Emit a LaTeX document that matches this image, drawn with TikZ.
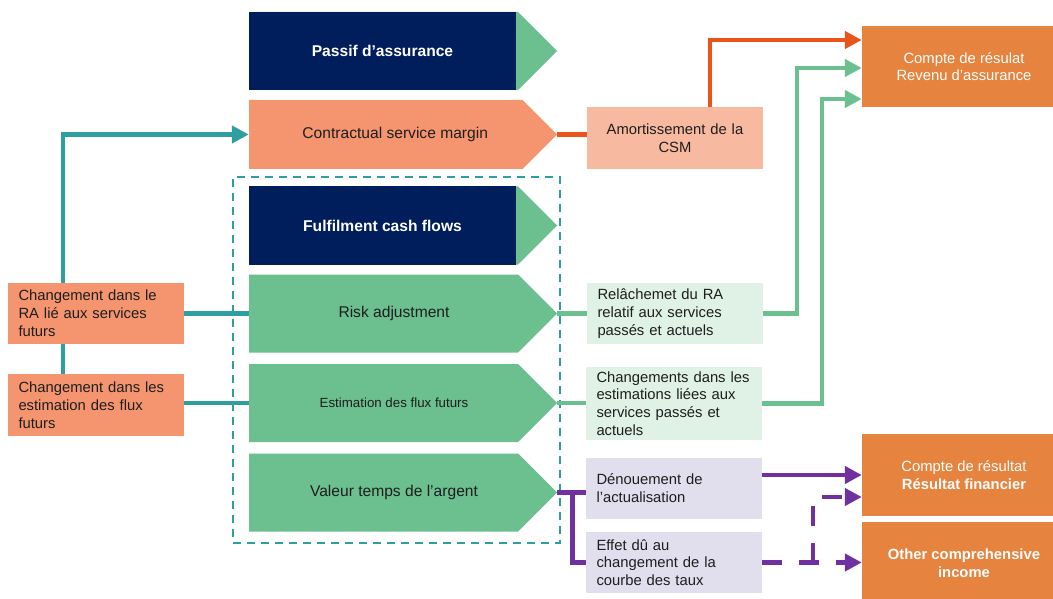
\documentclass[tikz,border=0pt]{standalone}
\usepackage{fontspec}
\setmainfont{Liberation Sans}
\usetikzlibrary{shapes.symbols,arrows.meta,calc}
\pgfdeclarelayer{background}
\pgfsetlayers{background,main}

\definecolor{navy}{RGB}{0,30,92}
\definecolor{leaf}{RGB}{108,191,143}
\definecolor{salmon}{RGB}{244,149,111}
\definecolor{peach}{RGB}{247,185,160}
\definecolor{mint}{RGB}{224,241,230}
\definecolor{lilac}{RGB}{225,223,237}
\definecolor{amber}{RGB}{230,131,62}
\definecolor{rust}{RGB}{232,84,26}
\definecolor{tealline}{RGB}{46,158,160}
\definecolor{violet}{RGB}{112,48,160}
\definecolor{ink}{RGB}{30,30,30}

\tikzset{
  pent/.style={signal, signal to=east, signal from=nowhere, signal pointer angle=90,
    fill=leaf, draw=none, inner sep=0pt, minimum width=308pt, minimum height=78pt},
  pentlabel/.style={text=ink, inner sep=0pt, font=\fontsize{15.6}{18}\selectfont},
  blockbody/.style={rectangle, fill=navy, inner sep=0pt, minimum width=267pt,
    minimum height=78pt, text=white, font=\fontsize{15.6}{18}\selectfont\bfseries},
  sidebox/.style={rectangle, inner xsep=10.5pt, inner ysep=0pt, minimum width=176pt,
    text width=155pt, align=left, text=ink, font=\fontsize{14.8}{17.8}\selectfont},
  resultbox/.style={rectangle, fill=amber, text=white, inner sep=0pt, minimum width=204pt,
    align=center, font=\fontsize{14.8}{17.5}\selectfont},
  link/.style={line width=4.5pt},
  headed/.style={-{Triangle[length=17pt,width=17pt]}},
  broken/.style={dash pattern=on 20pt off 17pt}
}

\begin{document}
\begin{tikzpicture}[x=1pt,y=-1pt]
\useasboundingbox (0,0) rectangle (1053,599);
\clip (0,0) rectangle (1053,599);

% liability blocks (signal bodies run from x=249, tips at x=557)
\node[pent] (passif) at (383.5,51) {};
\node[blockbody] (passif-body) at (382.5,51) {Passif d’assurance};
\node[pent, fill=salmon, minimum height=69pt] (csm) at (385.75,134.5) {};
\node[pentlabel] (csm-text) at ([xshift=9.5pt]csm.center) {Contractual service margin};
\node[pent] (fcf) at (383.5,225.5) {};
\node[blockbody] (fcf-body) at (382.5,225.5) {Fulfilment cash flows};
\node[pent] (ra) at (383.5,313.5) {};
\node[pentlabel] (ra-text) at ([xshift=10.5pt]ra.center) {Risk adjustment};
\node[pent] (est) at (383.5,403) {};
\node[pentlabel, font=\fontsize{13.3}{16}\selectfont] (est-text) at ([xshift=10.5pt]est.center) {Estimation des flux futurs};
\node[pent] (val) at (383.5,492.5) {};
\node[pentlabel] (val-text) at ([xshift=10.5pt]val.center) {Valeur temps de l’argent};

% fulfilment cash flows group
\node[draw=tealline, dash pattern=on 8pt off 6pt, line width=2pt, inner sep=0pt,
  minimum width=327pt, minimum height=366pt] (fcf-group) at (396.5,360) {};

% changes relating to future services
\node[sidebox, fill=salmon, minimum height=61pt] (ra-change) at (96,313.5)
  {Changement dans le\\RA lié aux services\\futurs};
\node[sidebox, fill=salmon, minimum height=62pt] (est-change) at (96,405)
  {Changement dans les\\estimation des flux\\futurs};

% releases and effects
\node[sidebox, fill=peach, align=center, minimum height=62pt] (amort) at (675,138)
  {Amortissement de la\\CSM};
\node[sidebox, fill=mint, minimum height=61pt] (release) at (675,313.5)
  {Relâchemet du RA\\relatif aux services\\passés et actuels};
\node[sidebox, fill=mint, minimum height=73pt] (est-past) at (674,403.5)
  {Changements dans les\\estimations liées aux\\services passés et\\actuels};
\node[sidebox, fill=lilac, minimum height=61pt] (unwind) at (674,488.5)
  {Dénouement de\\l’actualisation};
\node[sidebox, fill=lilac, minimum height=61pt] (curve) at (674,562.5)
  {Effet dû au\\changement de la\\courbe des taux};

% statements
\node[resultbox, minimum height=81pt] (revenue) at (964,66.5)
  {Compte de résulat\\Revenu d’assurance};
\node[resultbox, minimum height=82pt] (finance) at (964,475)
  {Compte de résultat\\\textbf{Résultat financier}};
\node[resultbox, minimum height=82pt, font=\fontsize{14.8}{17.5}\selectfont\bfseries] (oci) at (964,563)
  {Other comprehensive\\income};

% teal links into the liability
\coordinate (trunk) at (63,0);
\begin{pgfonlayer}{background}
\draw[link, tealline, headed] (trunk |- est-change.north) |- (csm.west);
\end{pgfonlayer}
\draw[link, tealline] (ra-change.east) -- (ra.west);
\draw[link, tealline] (est-change.east |- est.west) -- (est.west);

% CSM amortisation
\draw[link, rust] (csm.east) -- (csm.east -| amort.west);
\draw[link, rust, headed] ([xshift=35pt]amort.north) |- ([yshift=26.5pt]revenue.west);

% risk adjustment and estimates
\draw[link, leaf] (ra.east) -- (release.west);
\draw[link, leaf] (est.east) -- (est.east -| est-past.west);
\draw[link, leaf, headed] (release.east) -- ++(34,0) |- ([yshift=-1.5pt]revenue.west);
\draw[link, leaf, headed] (est-past.east) -- ++(60,0) |- ([yshift=-32.5pt]revenue.west);

% time value of money
\draw[link, violet] (val.east) -- (val.east -| unwind.west);
\draw[link, violet] ([xshift=15pt]val.east) |- (curve.west);
\draw[link, violet, headed] (finance.west -| unwind.east) -- (finance.west);
\draw[link, violet, broken, headed] (curve.east) -- (curve.east -| oci.west);
\draw[link, violet, broken, headed] ([xshift=51pt]curve.east) |- ([yshift=-22pt]finance.west);
\end{tikzpicture}
\end{document}
